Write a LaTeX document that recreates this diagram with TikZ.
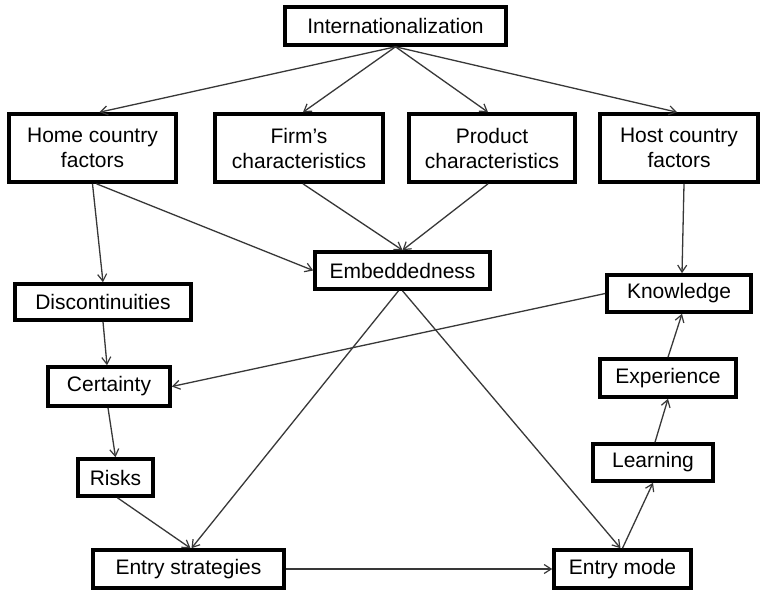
\documentclass[tikz,border=0pt]{standalone}
\usepackage{fontspec}
\setmainfont{Liberation Sans}
\usetikzlibrary{arrows.meta}
\definecolor{linkgray}{HTML}{383838}
\tikzset{
  box/.style={draw=black, line width=3.6pt, fill=white, align=center,
    inner sep=0pt, font=\fontsize{21}{25}\selectfont},
  link/.style={draw=linkgray, line width=1.3pt,
    -{Straight Barb[length=7pt,width=9pt,line width=1.2pt]}}
}
\begin{document}
\begin{tikzpicture}[x=1pt,y=-1pt]
\useasboundingbox[fill=white] (0,0) rectangle (762,592);

% boxes
\node[box, minimum width=221pt, minimum height=38pt] (int)   at (395.5,26)  {Internationalization};
\node[box, minimum width=167pt, minimum height=68pt] (home)  at (92.5,148)  {Home country\\factors};
\node[box, minimum width=168pt, minimum height=68pt] (firm)  at (299,148)   {Firm’s\\characteristics};
\node[box, minimum width=166pt, minimum height=68pt] (prod)  at (492,148)   {Product\\characteristics};
\node[box, minimum width=158pt, minimum height=68pt] (host)  at (679,148)   {Host country\\factors};
\node[box, minimum width=175pt, minimum height=37pt] (emb)   at (402.5,270.5) {Embeddedness};
\node[box, minimum width=176pt, minimum height=36pt] (disc)  at (103,302)   {Discontinuities};
\node[box, minimum width=144pt, minimum height=37pt] (know)  at (679,293.5) {Knowledge};
\node[box, minimum width=122pt, minimum height=39pt] (cert)  at (109,386.5) {Certainty};
\node[box, minimum width=136pt, minimum height=38pt] (exp)   at (668,378)   {Experience};
\node[box, minimum width=75pt,  minimum height=37pt] (risks) at (115.5,477.5) {Risks};
\node[box, minimum width=120pt, minimum height=37pt] (learn) at (653,462.5) {Learning};
\node[box, minimum width=191pt, minimum height=38pt] (es)    at (188.5,569) {Entry strategies};
\node[box, minimum width=137pt, minimum height=38pt] (em)    at (622.5,569) {Entry mode};

% connectors
\draw[link] (int.south) -- ([xshift=7pt]home.north);
\draw[link] (int.south) -- ([xshift=4pt]firm.north);
\draw[link] (int.south) -- ([xshift=-4pt]prod.north);
\draw[link] (int.south) -- ([xshift=-2pt]host.north);

\draw[link] (home.south) -- (disc.north);
\draw[link] ([xshift=4pt]home.south) -- (emb.west);
\draw[link] ([xshift=4pt]firm.south) -- (emb.north);
\draw[link] ([xshift=-4pt]prod.south) -- (emb.north);
\draw[link] ([xshift=5pt]host.south) -- ([xshift=3pt]know.north);

\draw[link] (know.west) -- (cert.east);
\draw[link] (disc.south) -- ([xshift=-2pt]cert.north);
\draw[link] ([xshift=-1pt]cert.south) -- (risks.north);
\draw[link] ([xshift=2pt]risks.south) -- ([xshift=2pt]es.north);
\draw[link] ([xshift=-4pt]emb.south) -- ([xshift=3pt]es.north);
\draw[link] (emb.south) -- ([xshift=-2pt]em.north);
\draw[link] (es.east) -- (em.west);

\draw[link] (em.north) -- (learn.south);
\draw[link] ([xshift=2pt]learn.north) -- (exp.south);
\draw[link] (exp.north) -- ([xshift=3pt]know.south);
\end{tikzpicture}
\end{document}
